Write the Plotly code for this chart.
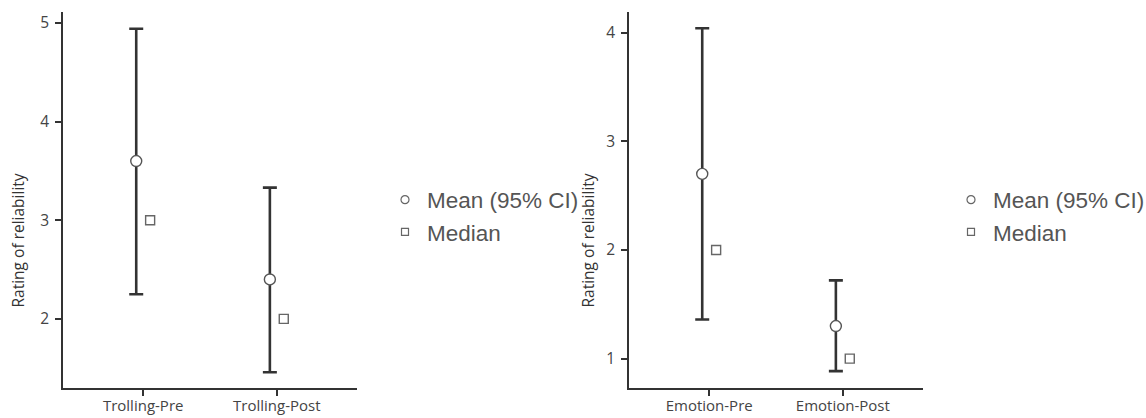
import plotly.graph_objects as go

# ---- data ----
left_categories = ["Trolling-Pre", "Trolling-Post"]
left_mean = [3.60, 2.40]
left_ci_low = [2.25, 1.46]
left_ci_high = [4.94, 3.33]
left_median = [3.0, 2.0]

right_categories = ["Emotion-Pre", "Emotion-Post"]
right_mean = [2.70, 1.30]
right_ci_low = [1.36, 0.885]
right_ci_high = [4.04, 1.72]
right_median = [2.0, 1.0]

y_title = "Rating of reliability"
legend_labels = ["Mean (95% CI)", "Median"]

W, H = 1146, 418
DODGE = 0.052
AX_COLOR = "#333333"
TXT_COLOR = "#555555"
Y_TICK_FONT = dict(family="Open Sans, sans-serif", size=15.5, color="#444444")
X_TICK_FONT = dict(family="Open Sans, sans-serif", size=15, color="#444444")

fig = go.Figure()


def add_panel(cats, mean, lo, hi, med, xa, ya, legend_name):
    idx = list(range(len(cats)))
    fig.add_trace(go.Scatter(
        x=[i - DODGE for i in idx], y=mean, mode="markers",
        error_y=dict(type="data", symmetric=False,
                     array=[h - m for h, m in zip(hi, mean)],
                     arrayminus=[m - l for m, l in zip(mean, lo)],
                     color=AX_COLOR, thickness=2.6, width=7),
        marker=dict(symbol="circle", size=11, color="white",
                    line=dict(color="#555555", width=1.4)),
        xaxis=xa, yaxis=ya, showlegend=False, hoverinfo="skip"))
    fig.add_trace(go.Scatter(
        x=[i + DODGE for i in idx], y=med, mode="markers",
        marker=dict(symbol="square", size=9, color="white",
                    line=dict(color="#666666", width=1.4)),
        xaxis=xa, yaxis=ya, showlegend=False, hoverinfo="skip"))
    # legend entries
    fig.add_trace(go.Scatter(
        x=[None], y=[None], mode="markers", name=legend_labels[0],
        marker=dict(symbol="circle-open", size=8, color="#666666", line=dict(width=1.2)),
        xaxis=xa, yaxis=ya, legend=legend_name))
    fig.add_trace(go.Scatter(
        x=[None], y=[None], mode="markers", name=legend_labels[1],
        marker=dict(symbol="square-open", size=7, color="#666666", line=dict(width=1.2)),
        xaxis=xa, yaxis=ya, legend=legend_name))


add_panel(left_categories, left_mean, left_ci_low, left_ci_high, left_median, "x", "y", "legend")
add_panel(right_categories, right_mean, right_ci_low, right_ci_high, right_median, "x2", "y2", "legend2")

y0, y1 = 1 - 388 / H, 1 - 12 / H
common_x = dict(range=[-0.6, 1.6], showgrid=False, zeroline=False, showline=True,
                linecolor=AX_COLOR, linewidth=1.5, ticks="outside", ticklen=6,
                tickcolor=AX_COLOR, tickwidth=1.5, tickfont=X_TICK_FONT, tickvals=[0, 1],
                ticklabelstandoff=-3, automargin=False)
common_y = dict(showgrid=False, zeroline=False, showline=True, linecolor=AX_COLOR,
                linewidth=1.5, ticks="outside", ticklen=6, tickcolor=AX_COLOR,
                tickwidth=1.5, tickfont=Y_TICK_FONT, dtick=1, ticklabelstandoff=3,
                automargin=False)

legend_common = dict(font=dict(family="Liberation Sans, Arial, sans-serif", size=22.5, color=TXT_COLOR),
                     bgcolor="rgba(0,0,0,0)", borderwidth=0, xanchor="left", yanchor="middle",
                     tracegroupgap=0, itemwidth=34)

title_font = dict(family="Open Sans, sans-serif", size=15.5, color="#333333")

fig.update_layout(
    width=W, height=H, margin=dict(l=0, r=0, t=0, b=0, autoexpand=False),
    paper_bgcolor="white", plot_bgcolor="white",
    xaxis=dict(domain=[63 / W, 357 / W], anchor="y", ticktext=left_categories, **common_x),
    yaxis=dict(domain=[y0, y1], anchor="x", range=[1.30, 5.11], **common_y),
    xaxis2=dict(domain=[629 / W, 923 / W], anchor="y2", ticktext=right_categories, **common_x),
    yaxis2=dict(domain=[y0, y1], anchor="x2", range=[0.73, 4.19], **common_y),
    legend=dict(x=383 / W, y=1 - 216 / H, **legend_common),
    legend2=dict(x=949 / W, y=1 - 216 / H, **legend_common),
    annotations=[
        dict(text=y_title, textangle=-90, x=17.5 / W, y=1 - 241 / H, xref="paper", yref="paper",
             xanchor="center", yanchor="middle", showarrow=False, font=title_font),
        dict(text=y_title, textangle=-90, x=587.5 / W, y=1 - 241 / H, xref="paper", yref="paper",
             xanchor="center", yanchor="middle", showarrow=False, font=title_font),
    ],
)

fig.write_html("out.html", config={"displayModeBar": False},
               post_script="document.body.style.margin='0px';")
